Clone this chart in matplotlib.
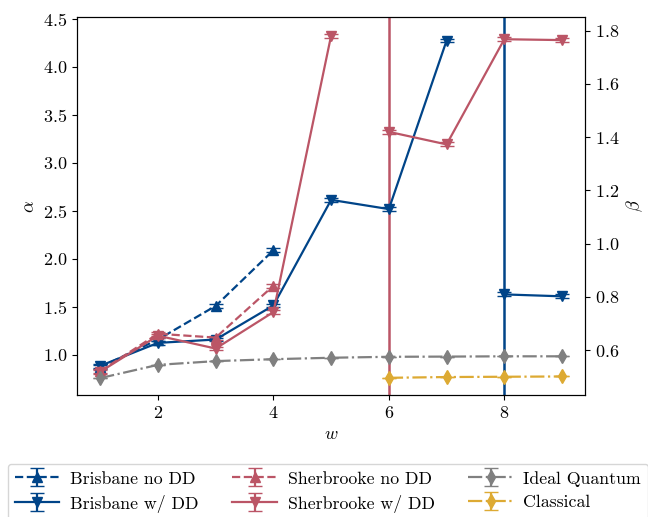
import matplotlib
matplotlib.use("Agg")
import matplotlib.pyplot as plt
import numpy as np

plt.rcParams["font.family"] = "serif"
plt.rcParams["font.serif"] = ["cmr10", "DejaVu Serif"]
plt.rcParams["mathtext.fontset"] = "cm"
plt.rcParams["axes.formatter.use_mathtext"] = True
plt.rcParams["font.size"] = 13

w = np.arange(1, 10)
nan = np.nan

# alpha values
brisbane_no_dd = [0.87, 1.16, 1.51, 2.09, nan, nan, nan, nan, nan]
brisbane_dd = [0.886, 1.125, 1.16, 1.515, 2.615, 2.519, 4.275, 1.63, 1.61]
sherbrooke_no_dd = [0.83, 1.22, 1.18, 1.72, nan, nan, nan, nan, nan]
sherbrooke_dd = [0.824, 1.20, 1.066, 1.446, 4.327, 3.324, 3.193, 4.289, 4.28]
ideal_quantum = [0.758, 0.896, 0.935, 0.955, 0.97, 0.98, 0.982, 0.985, 0.985]
classical = [nan, nan, nan, nan, nan, 0.761, 0.769, 0.772, 0.775]

err_small = 0.02
# the w/ DD runs are broken in two pieces; one point in each has a huge error
brisbane_dd_split = 7      # index where the second run starts
sherbrooke_dd_split = 5
brisbane_dd_big = 7        # index of point with huge error
sherbrooke_dd_big = 5
big_err = 10.0

blue = "#004488"
red = "#BB5566"
gold = "#DDAA33"
gray = "gray"

fig = plt.figure(figsize=(6.48, 5.17), dpi=100)
ax = fig.add_axes([0.119, 0.236, 0.784, 0.731])

kw = dict(capsize=5, lw=1.6, ms=7)


def split_run(vals, color, ls, marker, label, split, big):
    vals = np.array(vals)
    ax.errorbar(w[:split], vals[:split], yerr=err_small, color=color, ls=ls, marker=marker, label=label, **kw)
    ax.errorbar(w[split:], vals[split:], yerr=err_small, color=color, ls=ls, marker=marker, **kw)
    ax.errorbar(w[big], vals[big], yerr=big_err, color=color, ls="none", elinewidth=1.8, capsize=0)


ax.errorbar(w, brisbane_no_dd, yerr=err_small, color=blue, ls="--", marker="^", label="Brisbane no DD", **kw)
split_run(brisbane_dd, blue, "-", "v", "Brisbane w/ DD", brisbane_dd_split, brisbane_dd_big)
ax.errorbar(w, sherbrooke_no_dd, yerr=err_small, color=red, ls="--", marker="^", label="Sherbrooke no DD", **kw)
split_run(sherbrooke_dd, red, "-", "v", "Sherbrooke w/ DD", sherbrooke_dd_split, sherbrooke_dd_big)
ax.errorbar(w, ideal_quantum, yerr=0.0, color=gray, ls="-.", marker="d", label="Ideal Quantum", **kw)
ax.errorbar(w, classical, yerr=0.0, color=gold, ls="-.", marker="d", label="Classical", **kw)

ax.set_xlim(0.6, 9.4)
ax.set_ylim(0.582, 4.52)
ax.set_xticks([2, 4, 6, 8])
ax.set_xlabel(r"$w$")
ax.set_ylabel(r"$\alpha$")

ax2 = ax.twinx()
ax2.set_ylim(0.431, 1.851)
ax2.set_ylabel(r"$\beta$")

ax.legend(loc="upper center", bbox_to_anchor=(0.494, -0.158), ncol=3, fontsize=12.8,
          handlelength=2.5, columnspacing=1.9, handletextpad=0.6, labelspacing=0.45)

fig.savefig("out.png", dpi=100)
